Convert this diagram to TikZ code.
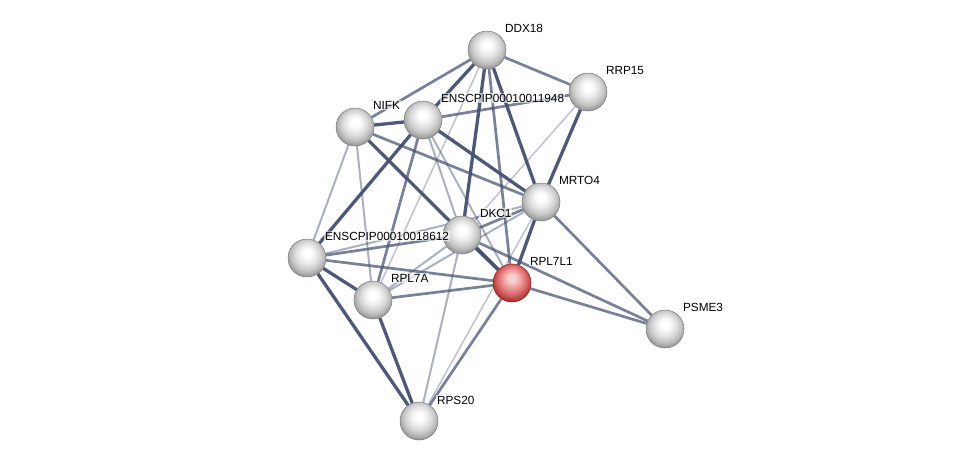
\documentclass[tikz,border=0pt]{standalone}
\usepackage{fontspec}
\setmainfont{Liberation Sans}
\usetikzlibrary{backgrounds}
\definecolor{edgec}{HTML}{455070}
\definecolor{rimg}{HTML}{7A7A7A}
\definecolor{rimr}{HTML}{8A2020}
\definecolor{redA}{HTML}{F8CFCF}
\definecolor{redB}{HTML}{F0A2A2}
\definecolor{redC}{HTML}{E27878}
\definecolor{redD}{HTML}{CC5454}
\definecolor{redE}{HTML}{A83030}
\definecolor{redF}{HTML}{8A2020}
\pgfdeclareradialshading{greysphere}{\pgfpoint{0bp}{7bp}}{%
  color(0bp)=(white); color(5bp)=(white); color(11bp)=(white!93!black);
  color(17bp)=(white!84!black); color(22bp)=(white!74!black); color(27bp)=(white!60!black); color(32bp)=(white!50!black); color(50bp)=(white!50!black)}
\pgfdeclareradialshading{redsphere}{\pgfpoint{0bp}{7bp}}{%
  color(0bp)=(redA); color(5bp)=(redA); color(11bp)=(redB);
  color(17bp)=(redC); color(22bp)=(redD); color(27bp)=(redE); color(32bp)=(redF); color(50bp)=(redF)}
\tikzset{
  x=1pt, y=-1pt,
  protein/.style={circle, minimum size=38pt, inner sep=0pt, shading=greysphere, draw=rimg, line width=0.5pt},
  query/.style={circle, minimum size=38pt, inner sep=0pt, shading=redsphere, draw=rimr, line width=0.5pt},
  lab/.style={anchor=west, font=\fontsize{11.8}{13}\selectfont, inner sep=0.8pt, fill=white, fill opacity=0.6, text opacity=1},
  thk/.style={draw=edgec, line width=3.3pt, draw opacity=0.95},
  med/.style={draw=edgec, line width=2.7pt, draw opacity=0.72},
  lgt/.style={draw=edgec, line width=2pt, draw opacity=0.45},
  vlt/.style={draw=edgec, line width=1.5pt, draw opacity=0.35},
}
\begin{document}
\begin{tikzpicture}
\useasboundingbox (0,0) rectangle (976,467);
% nodes
\node[protein] (ddx) at (487,50) {};
\node[protein] (rrp) at (588,92) {};
\node[protein] (nifk) at (355,127) {};
\node[protein] (ea) at (423,120) {};
\node[protein] (mrto) at (541,202) {};
\node[protein] (dkc) at (462,235) {};
\node[protein] (eb) at (307,258) {};
\node[query] (rpl7l1) at (512,283) {};
\node[protein] (rpl7a) at (373,300) {};
\node[protein] (psme) at (665,329) {};
\node[protein] (rps) at (419,421) {};
% edges
\begin{scope}[on background layer]
\draw[med] (ddx) -- (rrp);
\draw[med] (ddx) -- (nifk);
\draw[thk] (ddx) -- (ea);
\draw[vlt] (ddx) -- (rpl7a);
\draw[thk] (ddx) -- (dkc);
\draw[med] (ddx) -- (rpl7l1);
\draw[thk] (ddx) -- (mrto);
\draw[med] (rrp) -- (ea);
\draw[thk] (rrp) -- (mrto);
\draw[vlt] (rrp) -- (dkc);
\draw[thk] (nifk) -- (ea);
\draw[med] (nifk) -- (mrto);
\draw[thk] (nifk) -- (rpl7l1);
\draw[lgt] (nifk) -- (eb);
\draw[lgt] (nifk) -- (rpl7a);
\draw[thk] (ea) -- (mrto);
\draw[thk] (ea) -- (eb);
\draw[med] (ea) -- (rpl7a);
\draw[lgt] (ea) -- (dkc);
\draw[lgt] (ea) -- (rpl7l1);
\draw[med] (mrto) -- (dkc);
\draw[thk] (mrto) -- (rpl7l1);
\draw[med] (mrto) -- (psme);
\draw[lgt] (mrto) -- (eb);
\draw[lgt] (mrto) -- (rpl7a);
\draw[vlt] (mrto) -- (rps);
\draw[med] (dkc) -- (eb);
\draw[lgt] (dkc) -- (rpl7a);
\draw[thk] (dkc) -- (rpl7l1);
\draw[med] (dkc) -- (psme);
\draw[lgt] (dkc) -- (rps);
\draw[med] (eb) -- (rpl7l1);
\draw[thk] (eb) -- (rpl7a);
\draw[thk] (eb) -- (rps);
\draw[med] (rpl7a) -- (rpl7l1);
\draw[thk] (rpl7a) -- (rps);
\draw[med] (rpl7l1) -- (psme);
\draw[med] (rpl7l1) -- (rps);
\end{scope}
% labels
\node[lab] (lddx) at (504,28) {DDX18};
\node[lab] (lrrp) at (605,70) {RRP15};
\node[lab] (lnifk) at (372,105) {NIFK};
\node[lab] (lea) at (440,98) {ENSCPIP00010011948};
\node[lab] (lmrto) at (558,180) {MRTO4};
\node[lab] (ldkc) at (479,213) {DKC1};
\node[lab] (leb) at (324,236) {ENSCPIP00010018612};
\node[lab] (lrpl7l1) at (529,261) {RPL7L1};
\node[lab] (lrpl7a) at (390,278) {RPL7A};
\node[lab] (lpsme) at (682,307) {PSME3};
\node[lab] (lrps) at (436,400) {RPS20};
\end{tikzpicture}
\end{document}
